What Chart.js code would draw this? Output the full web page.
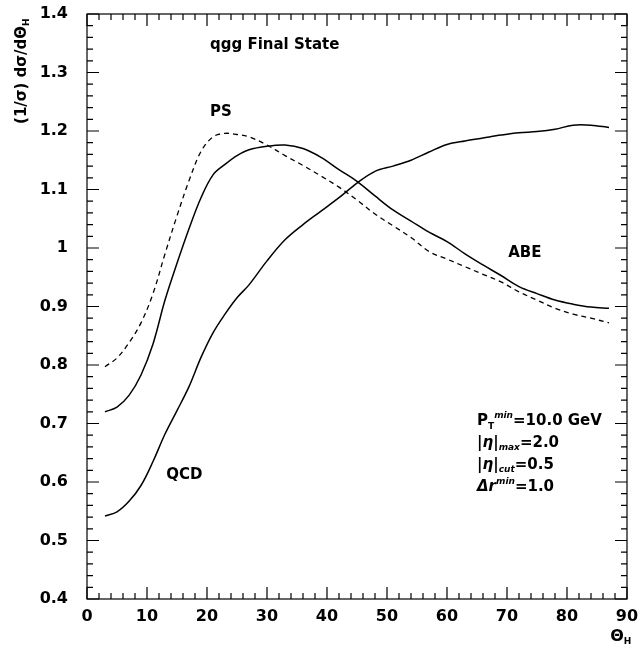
<!DOCTYPE html>
<html>
<head>
<meta charset="utf-8">
<script src="https://cdn.jsdelivr.net/npm/chart.js@4.4.1/dist/chart.umd.min.js"></script>
<style>
  html, body { margin: 0; padding: 0; background: #fff; }
  #wrap { width: 639px; height: 651px; }
</style>
</head>
<body>
<div id="wrap"><canvas id="c" width="639" height="651"></canvas></div>
<script>
// ---- data ----
const theta = [3, 5, 7, 9, 11, 13, 15, 17, 19, 21, 23, 25, 27, 30, 33, 36, 39, 42, 45, 48, 51, 54, 57, 60, 63, 66, 69, 72, 75, 78, 81, 84, 87];
const psValues  = [0.797, 0.812, 0.838, 0.872, 0.922, 0.990, 1.055, 1.115, 1.165, 1.190, 1.196, 1.194, 1.190, 1.176, 1.158, 1.141, 1.123, 1.104, 1.082, 1.058, 1.038, 1.018, 0.994, 0.981, 0.968, 0.955, 0.942, 0.925, 0.911, 0.897, 0.887, 0.880, 0.872];
const abeValues = [0.720, 0.728, 0.748, 0.783, 0.836, 0.911, 0.974, 1.033, 1.086, 1.125, 1.143, 1.158, 1.168, 1.174, 1.176, 1.170, 1.155, 1.134, 1.114, 1.089, 1.065, 1.046, 1.027, 1.011, 0.990, 0.971, 0.953, 0.934, 0.922, 0.911, 0.904, 0.899, 0.897];
const qcdValues = [0.542, 0.549, 0.567, 0.594, 0.635, 0.682, 0.722, 0.763, 0.813, 0.855, 0.887, 0.915, 0.937, 0.978, 1.014, 1.040, 1.063, 1.086, 1.111, 1.131, 1.140, 1.150, 1.164, 1.177, 1.183, 1.188, 1.193, 1.197, 1.199, 1.203, 1.210, 1.210, 1.206];
const xTicks = [0, 10, 20, 30, 40, 50, 60, 70, 80, 90];
const yTicks = [0.4, 0.5, 0.6, 0.7, 0.8, 0.9, 1.0, 1.1, 1.2, 1.3, 1.4];

const FONT = '"DejaVu Sans", sans-serif';
const pts = vals => theta.map((t, i) => ({ x: t, y: vals[i] }));
const noPad = s => { s.paddingTop = 0; s.paddingBottom = 0; s.paddingLeft = 0; s.paddingRight = 0; };

const decorations = {
  id: 'decorations',
  afterDraw(chart) {
    const ctx = chart.ctx;
    const xs = chart.scales.x, ys = chart.scales.y;
    const a = chart.chartArea;
    ctx.save();
    ctx.strokeStyle = '#000';
    ctx.lineWidth = 1.2;
    ctx.strokeRect(a.left, a.top, a.right - a.left, a.bottom - a.top);
    for (let v = xs.min; v <= xs.max + 1e-9; v += 2) {
      const px = xs.getPixelForValue(v);
      const major = Math.abs(v % 10) < 1e-6;
      const L = major ? 12 : 6;
      ctx.beginPath();
      ctx.moveTo(px, a.bottom); ctx.lineTo(px, a.bottom - L);
      ctx.moveTo(px, a.top); ctx.lineTo(px, a.top + L);
      ctx.stroke();
    }
    for (let k = 0; k <= 50; k++) {
      const v = ys.min + k * 0.02;
      const py = ys.getPixelForValue(v);
      const major = k % 5 === 0;
      const L = major ? 12 : 6;
      ctx.beginPath();
      ctx.moveTo(a.left, py); ctx.lineTo(a.left + L, py);
      ctx.moveTo(a.right, py); ctx.lineTo(a.right - L, py);
      ctx.stroke();
    }
    ctx.fillStyle = '#000';
    ctx.textBaseline = 'middle';
    const txt = (s, xv, yv, size, align) => {
      ctx.font = 'bold ' + size + 'px ' + FONT;
      ctx.textAlign = align || 'left';
      ctx.fillText(s, xs.getPixelForValue(xv), ys.getPixelForValue(yv));
    };
    txt('qgg Final State', 20.5, 1.347, 15);
    txt('PS', 20.5, 1.232, 15);
    txt('ABE', 70.2, 0.991, 15);
    txt('QCD', 13.2, 0.612, 15);

    const runs = (parts, xv, yv) => {
      let px = xs.getPixelForValue(xv);
      const py = ys.getPixelForValue(yv);
      ctx.textAlign = 'left';
      for (const p of parts) {
        const size = p.s ? 9 : 15;
        const dy = p.s === 'sup' ? -6 : (p.s === 'sub' ? 5 : 0);
        ctx.font = (p.i ? 'italic ' : '') + 'bold ' + size + 'px ' + FONT;
        ctx.fillText(p.t, px, py + dy);
        px += ctx.measureText(p.t).width;
      }
    };
    runs([{ t: 'P' }, { t: 'T', s: 'sub' }, { t: 'min', s: 'sup', i: 1 }, { t: '=10.0 GeV' }], 65, 0.704);
    runs([{ t: '|η|', i: 1 }, { t: 'max', s: 'sub', i: 1 }, { t: '=2.0' }], 65, 0.667);
    runs([{ t: '|η|', i: 1 }, { t: 'cut', s: 'sub', i: 1 }, { t: '=0.5' }], 65, 0.629);
    runs([{ t: 'Δr', i: 1 }, { t: 'min', s: 'sup', i: 1 }, { t: '=1.0' }], 65, 0.591);

    // y-axis title (rotated)
    ctx.save();
    ctx.translate(22, 70);
    ctx.rotate(-Math.PI / 2);
    ctx.textAlign = 'center';
    ctx.font = 'bold 15px ' + FONT;
    const main = '(1/σ) dσ/dΘ';
    const w = ctx.measureText(main).width;
    ctx.fillText(main, -5, 0);
    ctx.font = 'bold 9px ' + FONT;
    ctx.textAlign = 'left';
    ctx.fillText('H', -5 + w / 2, 5);
    ctx.restore();

    // x-axis title
    ctx.font = 'bold 16px ' + FONT;
    ctx.textAlign = 'left';
    const xt = xs.getPixelForValue(87.2);
    ctx.fillText('Θ', xt, 637);
    const wt = ctx.measureText('Θ').width;
    ctx.font = 'bold 9px ' + FONT;
    ctx.fillText('H', xt + wt, 642);
    ctx.restore();
  }
};

new Chart(document.getElementById('c'), {
  type: 'line',
  data: {
    datasets: [
      { label: 'PS', data: pts(psValues), borderColor: '#000', borderWidth: 1.3, borderDash: [5, 4], pointRadius: 0, tension: 0.35, fill: false },
      { label: 'ABE', data: pts(abeValues), borderColor: '#000', borderWidth: 1.5, pointRadius: 0, tension: 0.35, fill: false },
      { label: 'QCD', data: pts(qcdValues), borderColor: '#000', borderWidth: 1.5, pointRadius: 0, tension: 0.35, fill: false }
    ]
  },
  options: {
    responsive: false,
    animation: false,
    layout: { autoPadding: false, padding: { left: 0, right: 12, top: 14, bottom: 0 } },
    plugins: { legend: { display: false }, tooltip: { enabled: false } },
    scales: {
      x: {
        type: 'linear', min: 0, max: 90,
        afterBuildTicks: s => { s.ticks = xTicks.map(v => ({ value: v })); },
        afterFit: s => { s.height = 52; noPad(s); },
        grid: { display: false, drawTicks: false },
        border: { display: false },
        ticks: { padding: 8, color: '#000', font: { family: FONT, size: 16, weight: 'bold' }, maxRotation: 0, callback: v => String(v) }
      },
      y: {
        type: 'linear', min: 0.4, max: 1.4,
        afterBuildTicks: s => { s.ticks = yTicks.map(v => ({ value: v })); },
        afterFit: s => { s.width = 87; noPad(s); },
        grid: { display: false, drawTicks: false },
        border: { display: false },
        ticks: { padding: 19, color: '#000', font: { family: FONT, size: 16, weight: 'bold' }, callback: v => String(Number(v.toFixed(1))) }
      }
    }
  },
  plugins: [decorations]
});
</script>
</body>
</html>
